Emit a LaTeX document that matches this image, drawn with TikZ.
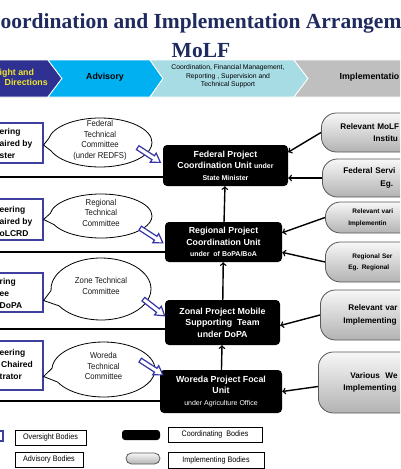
\documentclass[tikz,border=0pt]{standalone}
\usepackage{fontspec}
\setmainfont{Liberation Sans}
\newfontfamily\titlefont{Liberation Serif}
\newfontfamily\thinfont[FakeStretch=0.9]{Liberation Sans}
\usetikzlibrary{arrows,positioning,shapes.callouts}
\definecolor{titleblue}{HTML}{1F2B5E}
\definecolor{navyseg}{HTML}{2E3192}
\definecolor{cyanseg}{HTML}{00B0F0}
\definecolor{tealseg}{HTML}{A8DCE4}
\definecolor{grayseg}{HTML}{BFBFBF}
\definecolor{ovborder}{HTML}{3F3F9F}
\definecolor{hollowblue}{HTML}{3535A5}
\definecolor{dirtext}{HTML}{F2E627}
\newcommand{\bubtext}[1]{\smash{\begin{tabular}{@{}c@{}}#1\end{tabular}}}
\newcommand{\smallbf}{\fontsize{7}{9}\selectfont}

\begin{document}
\begin{tikzpicture}[x=1pt, y=-1pt,
oversight/.style={rectangle, draw=ovborder, line width=1.1pt, fill=white, inner sep=0pt},
ovtext/.style={anchor=west, align=left, inner sep=0pt, font=\bfseries\fontsize{8.5}{12}\selectfont},
advisory/.style={ellipse callout, draw, line width=0.8pt, fill=white, inner sep=0pt, callout pointer arc=30, font=\thinfont\fontsize{8.6}{10.5}\selectfont, text=black!90},
coordbox/.style={rectangle, rounded corners=4pt, fill=black, text=white, align=center, inner sep=0pt, font=\bfseries\fontsize{8.8}{11.5}\selectfont},
implshape/.style={rectangle, rounded corners=15pt, draw=black!65, line width=0.8pt, top color=black!3, bottom color=black!30},
implbox/.style={implshape, anchor=west, align=left, text width=70pt, font=\bfseries\fontsize{8.2}{12.5}\selectfont},
hollow/.style={draw=hollowblue, line width=1.2pt, fill=white, line join=miter},
legbox/.style={rectangle, draw, line width=0.9pt, fill=white, inner sep=0pt, font=\thinfont\fontsize{8}{9}\selectfont},
bantext/.style={inner sep=0pt, font=\bfseries\fontsize{8.8}{10.5}\selectfont},
sepline/.style={line width=1.2pt},
link/.style={line width=1.4pt, arrows={-to}}
]
\useasboundingbox (0,0) rectangle (400,469);
\clip (0,0) rectangle (400,469);
\fill[white] (0,0) rectangle (400,469);
% Title
\node[anchor=base west, inner sep=0pt, text=titleblue, font=\titlefont\bfseries\fontsize{21.5}{24}\selectfont] (title1) at (0.5,28) {oordination and Implementation Arrangem};
\node[anchor=base, inner sep=0pt, text=titleblue, font=\titlefont\bfseries\fontsize{21.5}{24}\selectfont] (title2) at (201,57) {MoLF};
% Banner
\filldraw[fill=navyseg, draw=white, line width=0.8pt] (-5,60) -- (48,60) -- (62,78.5) -- (48,97) -- (-5,97) -- cycle;
\filldraw[fill=cyanseg, draw=white, line width=0.8pt] (48,60) -- (150,60) -- (163,78.5) -- (150,97) -- (48,97) -- (62,78.5) -- cycle;
\filldraw[fill=tealseg, draw=white, line width=0.8pt] (150,60) -- (294,60) -- (308,78.5) -- (294,97) -- (150,97) -- (163,78.5) -- cycle;
\filldraw[fill=grayseg, draw=white, line width=0.8pt] (294,60) -- (405,60) -- (405,97) -- (294,97) -- (308,78.5) -- cycle;
\node[bantext, anchor=west, align=left, text=dirtext] (bandir) at (-0.5,77.5) {ight and\\\hspace*{5pt}Directions};
\node[bantext] (banadv) at (105,77.5) {Advisory};
\node[inner sep=0pt, align=center, font=\fontsize{6.8}{8.3}\selectfont] (bancfm) at (228,76.5) {Coordination, Financial Management,\\Reporting , Supervision and\\Technical Support};
\node[bantext, anchor=west] (banimp) at (339.5,77.5) {Implementatio};
% Oversight bodies
\node[oversight, minimum width=55pt, minimum height=40pt] (ob1) at (15.5,143) {};
\node[oversight, minimum width=55pt, minimum height=41pt] (ob2) at (15.5,219.5) {};
\node[oversight, minimum width=55pt, minimum height=39pt] (ob3) at (15.5,292.5) {};
\node[oversight, minimum width=55pt, minimum height=49pt] (ob4) at (15.5,365.5) {};
\node[ovtext] (ob1t) at (-0.5,143) {ering\\aired by\\ster};
\node[ovtext] (ob2t) at (-0.5,221) {eering\\aired by\\oLCRD};
\node[ovtext] (ob3t) at (-0.5,293.5) {ring\\ee\\DoPA};
\node[ovtext] (ob4t) at (-0.5,364.5) {eering\\\hspace*{1.5pt}Chaired\\trator};
% Coordinating bodies
\node[coordbox, minimum width=125pt, minimum height=41pt] (fpcu) at (225.5,165.5) {Federal Project\\Coordination Unit {\smallbf under}\\{\smallbf State Minister}};
\node[coordbox, minimum width=117pt, minimum height=40pt] (rpcu) at (223.5,242) {Regional Project\\Coordination Unit\\{\smallbf under\ \ of BoPA/BoA}};
\node[coordbox, minimum width=115pt, minimum height=45pt] (zpst) at (222.5,322.5) {Zonal Project Mobile\\Supporting\ \ Team\\under DoPA};
\node[coordbox, minimum width=122pt, minimum height=43pt] (wpfu) at (221,391.5) {Woreda Project Focal\\Unit\\{\mdseries\smallbf under Agriculture Office}};
% Separators
\coordinate (s1) at (-5,177);
\coordinate (s2) at (-5,252);
\coordinate (s3) at (-5,329);
\coordinate (s4) at (-5,401);
\draw[sepline] (s1) -- (s1 -| fpcu.west);
\draw[sepline] (s2) -- (s2 -| rpcu.west);
\draw[sepline] (s3) -- (s3 -| zpst.west);
\draw[sepline] (s4) -- (s4 -| wpfu.west);
% Advisory bodies
\node[advisory, minimum width=104pt, minimum height=49pt, callout absolute pointer={([yshift=-2pt]ob1.east)}] (ftc) at (100,142.5) {\bubtext{Federal\\Technical\\Committee\\(under REDFS)}};
\node[advisory, minimum width=102pt, minimum height=44pt, callout absolute pointer={(ob2.east)}] (rtc) at (101,216) {\bubtext{Regional\\Technical\\Committee}};
\node[advisory, minimum width=100pt, minimum height=62pt, callout absolute pointer={([yshift=-8pt]ob3.east)}] (ztc) at (101,289) {\bubtext{Zone Technical\\Committee}};
\node[advisory, minimum width=103pt, minimum height=55pt, callout absolute pointer={([yshift=-11pt]ob4.east)}] (wtc) at (103.5,369.5) {\bubtext{Woreda\\Technical\\Committee}};
% Implementing bodies
\node[implbox, minimum height=39pt, inner xsep=19pt] (imp1) at (321,132.5) {Relevant MoLF\\\hspace*{33pt}Institu};
\node[implbox, minimum height=38pt, inner xsep=21pt] (imp2) at (322,178) {Federal Servi\\\hspace*{37pt}Eg.};
\node[implbox, minimum height=31pt, inner xsep=23pt, font=\bfseries\fontsize{6.5}{12}\selectfont] (imp3) at (325,217.5) {\hspace*{4pt}Relevant vari\\Implementin};
\node[implbox, minimum height=40pt, inner xsep=23pt, font=\bfseries\fontsize{6.5}{11}\selectfont] (imp4) at (325,262) {\hspace*{4pt}Regional Ser\\Eg. Regional};
\node[implbox, minimum height=50pt, inner xsep=23pt] (imp5) at (320,315) {\hspace*{5pt}Relevant var\\Implementing};
\node[implbox, minimum height=61pt, inner xsep=25pt] (imp6) at (318,382.5) {\hspace*{7pt}Various\ \ We\\Implementing};
% Lines
\draw[link] (wpfu) -- (zpst);
\draw[link] (zpst) -- (rpcu);
\draw[link] (rpcu) -- (fpcu);
\draw[link] (imp1.west) -- (fpcu.12);
\draw[link] (imp2.west) -- (fpcu.east |- imp2.west);
\draw[link] (imp3.west) -- (rpcu.9);
\draw[link] (imp4.west) -- (rpcu.-10);
\draw[link] (imp5.west) -- (zpst.-3);
\draw[link] ([yshift=-4pt]imp6.west) -- (wpfu.east);
% Hollow arrows
\draw[hollow, shift={(149,155)}, rotate=-33] (-13.5,-2.3) -- (5,-2.3) -- (5,-5.5) -- (13.5,0) -- (5,5.5) -- (5,2.3) -- (-13.5,2.3) -- cycle;
\draw[hollow, shift={(151.5,235.5)}, rotate=-33] (-13.5,-2.3) -- (5,-2.3) -- (5,-5.5) -- (13.5,0) -- (5,5.5) -- (5,2.3) -- (-13.5,2.3) -- cycle;
\draw[hollow, shift={(154,307.5)}, rotate=-38] (-13.5,-2.3) -- (5,-2.3) -- (5,-5.5) -- (13.5,0) -- (5,5.5) -- (5,2.3) -- (-13.5,2.3) -- cycle;
\draw[hollow, shift={(151.5,367.5)}, rotate=-33] (-13.5,-2.3) -- (5,-2.3) -- (5,-5.5) -- (13.5,0) -- (5,5.5) -- (5,2.3) -- (-13.5,2.3) -- cycle;
% Legend
\node[oversight, minimum width=10pt, minimum height=10pt] (legov) at (-2,436) {};
\node[legbox, minimum width=71pt, minimum height=15pt] (legovt) at (50.5,437.5) {Oversight Bodies};
\node[legbox, minimum width=68pt, minimum height=15pt] (legadt) at (49,459.5) {Advisory Bodies};
\node[coordbox, minimum width=38pt, minimum height=10pt, rounded corners=3pt] (legco) at (141,435) {};
\node[legbox, minimum width=94pt, minimum height=15pt] (legcot) at (215,434.5) {Coordinating\ \ Bodies};
\node[implshape, rounded corners=5.5pt, minimum width=34pt, minimum height=11pt, inner sep=0pt] (legim) at (143,458.5) {};
\node[legbox, minimum width=96pt, minimum height=16pt] (legimt) at (216,460) {Implementing Bodies};
\end{tikzpicture}
\end{document}
